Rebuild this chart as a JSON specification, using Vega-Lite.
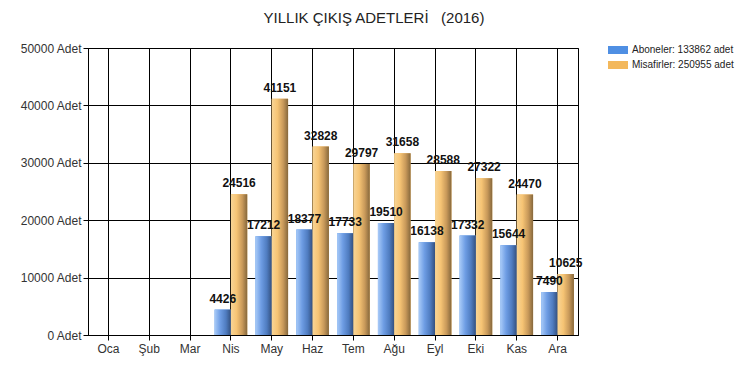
{
  "$schema": "https://vega.github.io/schema/vega-lite/v6.json",
  "width": 490,
  "height": 287,
  "autosize": {"type": "none"},
  "padding": {"left": 88, "top": 48, "right": 165, "bottom": 30},
  "background": "white",
  "title": {
    "text": "YILLIK ÇIKIŞ ADETLERİ \u00a0\u00a0(2016)",
    "anchor": "middle",
    "frame": "group",
    "dx": 41,
    "offset": 14,
    "font": "Liberation Sans",
    "fontSize": 15,
    "fontWeight": "normal",
    "color": "#222"
  },
  "config": {
    "view": {"stroke": "black", "strokeWidth": 1},
    "font": "Liberation Sans"
  },
  "data": {
    "values": [
      {"ay": "Nis", "seri": "Aboneler: 133862 adet", "deger": 4426},
      {"ay": "Nis", "seri": "Misafirler: 250955 adet", "deger": 24516},
      {"ay": "May", "seri": "Aboneler: 133862 adet", "deger": 17212},
      {"ay": "May", "seri": "Misafirler: 250955 adet", "deger": 41151},
      {"ay": "Haz", "seri": "Aboneler: 133862 adet", "deger": 18377},
      {"ay": "Haz", "seri": "Misafirler: 250955 adet", "deger": 32828},
      {"ay": "Tem", "seri": "Aboneler: 133862 adet", "deger": 17733},
      {"ay": "Tem", "seri": "Misafirler: 250955 adet", "deger": 29797},
      {"ay": "Ağu", "seri": "Aboneler: 133862 adet", "deger": 19510},
      {"ay": "Ağu", "seri": "Misafirler: 250955 adet", "deger": 31658},
      {"ay": "Eyl", "seri": "Aboneler: 133862 adet", "deger": 16138},
      {"ay": "Eyl", "seri": "Misafirler: 250955 adet", "deger": 28588},
      {"ay": "Eki", "seri": "Aboneler: 133862 adet", "deger": 17332},
      {"ay": "Eki", "seri": "Misafirler: 250955 adet", "deger": 27322},
      {"ay": "Kas", "seri": "Aboneler: 133862 adet", "deger": 15644},
      {"ay": "Kas", "seri": "Misafirler: 250955 adet", "deger": 24470},
      {"ay": "Ara", "seri": "Aboneler: 133862 adet", "deger": 7490},
      {"ay": "Ara", "seri": "Misafirler: 250955 adet", "deger": 10625}
    ]
  },
  "encoding": {
    "x": {
      "field": "ay",
      "type": "nominal",
      "scale": {
        "domain": ["Oca", "Şub", "Mar", "Nis", "May", "Haz", "Tem", "Ağu", "Eyl", "Eki", "Kas", "Ara"],
        "paddingInner": 0.2,
        "paddingOuter": 0.1
      },
      "axis": {
        "title": null,
        "labelAngle": 0,
        "bandPosition": 0.5,
        "grid": true,
        "gridColor": "black",
        "gridOpacity": 1,
        "gridWidth": 1,
        "domainColor": "black",
        "tickColor": "black",
        "tickSize": 5,
        "labelFontSize": 12,
        "labelColor": "#333",
        "labelPadding": 3,
        "labelFont": "Liberation Sans"
      }
    },
    "xOffset": {
      "field": "seri",
      "type": "nominal",
      "sort": ["Aboneler: 133862 adet", "Misafirler: 250955 adet"],
      "scale": {"paddingInner": 0, "paddingOuter": 0}
    },
    "y": {
      "field": "deger",
      "type": "quantitative",
      "scale": {"domain": [0, 50000], "nice": false},
      "axis": {
        "title": null,
        "values": [0, 10000, 20000, 30000, 40000, 50000],
        "labelExpr": "datum.value + ' Adet'",
        "grid": true,
        "gridColor": "black",
        "gridOpacity": 1,
        "gridWidth": 1,
        "domainColor": "black",
        "tickColor": "black",
        "tickSize": 5,
        "labelFontSize": 12,
        "labelColor": "#333",
        "labelPadding": 2,
        "labelFont": "Liberation Sans"
      }
    }
  },
  "layer": [
    {
      "mark": {"type": "bar"},
      "encoding": {
        "color": {
          "field": "seri",
          "type": "nominal",
          "scale": {
            "domain": ["Aboneler: 133862 adet", "Misafirler: 250955 adet"],
            "range": ["#4f8fe3", "#f3b85c"]
          },
          "legend": {
            "title": null,
            "orient": "none",
            "legendX": 520,
            "legendY": -8,
            "symbolType": "M-1,-0.4H1V0.4H-1Z",
            "symbolSize": 400,
            "symbolStrokeWidth": 0,
            "labelFontSize": 10,
            "labelColor": "#222",
            "labelFont": "Liberation Sans",
            "rowPadding": -3,
            "symbolOffset": 0,
            "labelOffset": 4
          }
        }
      }
    },
    {
      "transform": [{"filter": "datum.seri == 'Aboneler: 133862 adet'"}],
      "mark": {
        "type": "bar",
        "color": {
          "gradient": "linear",
          "x1": 0, "x2": 1, "y1": 0, "y2": 0,
          "stops": [
            {"offset": 0, "color": "#a9cbf8"},
            {"offset": 0.35, "color": "#6e9de4"},
            {"offset": 0.7, "color": "#4f7cc0"},
            {"offset": 1, "color": "#34507e"}
          ]
        }
      }
    },
    {
      "transform": [{"filter": "datum.seri == 'Misafirler: 250955 adet'"}],
      "mark": {
        "type": "bar",
        "color": {
          "gradient": "linear",
          "x1": 0, "x2": 1, "y1": 0, "y2": 0,
          "stops": [
            {"offset": 0, "color": "#f8d596"},
            {"offset": 0.35, "color": "#f6c474"},
            {"offset": 0.7, "color": "#c8995a"},
            {"offset": 1, "color": "#86683c"}
          ]
        }
      }
    },
    {
      "mark": {
        "type": "text",
        "baseline": "bottom",
        "dy": -4,
        "fontWeight": "bold",
        "fontSize": 12,
        "font": "Liberation Sans",
        "color": "#111"
      },
      "encoding": {
        "text": {"field": "deger", "type": "quantitative", "format": "d"}
      }
    }
  ]
}
